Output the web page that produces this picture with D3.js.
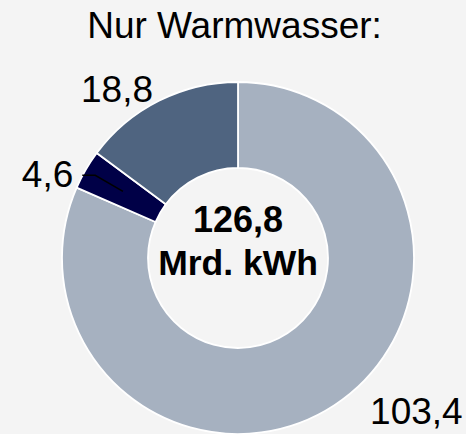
<!DOCTYPE html>
<html><head><meta charset="utf-8">
<script src="https://cdn.jsdelivr.net/npm/d3@7/dist/d3.min.js"></script>
<style>
html,body{margin:0;padding:0;background:#f4f4f4;}
svg{display:block;font-family:"Liberation Sans",Arial,sans-serif;}
</style></head><body>
<svg id="c" width="466" height="434"></svg>
<script>
const title = "Nur Warmwasser:";
const categories = ["Rest", "Kategorie B", "Kategorie C"];
const values = [103.4, 4.6, 18.8];
const colors = ["#a6b1c0", "#000047", "#4f6480"];
const unit = "Mrd. kWh";

const W = 466, H = 434;
const cx = 238, cy = 258, rOuter = 176, rInner = 90;
const fmt = v => d3.format(".1f")(v).replace(".", ",");

const svg = d3.select("#c");
svg.append("rect").attr("width", W).attr("height", H).attr("fill", "#f4f4f4");

svg.append("text").attr("x", 234.5).attr("y", 38).attr("text-anchor", "middle")
  .attr("font-size", 37).attr("fill", "#000").text(title);

const pie = d3.pie().sort(null).value(d => d)(values);
const arc = d3.arc().innerRadius(rInner).outerRadius(rOuter);
const g = svg.append("g").attr("transform", `translate(${cx},${cy})`);

g.selectAll("path.slice").data(pie).join("path").attr("class", "slice")
  .attr("d", arc).attr("fill", (d, i) => colors[i])
  .attr("stroke", "#ffffff").attr("stroke-width", 1.8).attr("stroke-linejoin", "round");

const mid = d => (d.startAngle + d.endAngle) / 2;
const polar = (r, a) => [r * Math.sin(a), -r * Math.cos(a)];

pie.forEach((d, i) => {
  const a = mid(d);
  if (i === 1) {
    const c = arc.centroid(d);
    const e = polar(165, a);
    const end = [e[0] - 13, e[1]];
    g.append("polyline").attr("points", [c, e, end].map(p => p.join(",")).join(" "))
      .attr("fill", "none").attr("stroke", "#000").attr("stroke-width", 1.5);
    g.append("text").attr("x", end[0] - 9).attr("y", end[1] + 12)
      .attr("text-anchor", "end").attr("font-size", 37).text(fmt(values[i]));
  } else if (i === 0) {
    const p = polar(235, a - 0.282);
    g.append("text").attr("x", p[0]).attr("y", p[1] + 13)
      .attr("text-anchor", "middle").attr("font-size", 37).text(fmt(values[i]));
  } else {
    const p = polar(208, a - 0.155);
    g.append("text").attr("x", p[0]).attr("y", p[1] + 13)
      .attr("text-anchor", "middle").attr("font-size", 37).text(fmt(values[i]));
  }
});

const total = d3.sum(values);
g.append("text").attr("x", 0).attr("y", -26).attr("text-anchor", "middle")
  .attr("font-size", 36).attr("font-weight", "bold").text(fmt(total));
g.append("text").attr("x", 0).attr("y", 17).attr("text-anchor", "middle")
  .attr("font-size", 35.5).attr("font-weight", "bold").text(unit);
</script>
</body></html>
